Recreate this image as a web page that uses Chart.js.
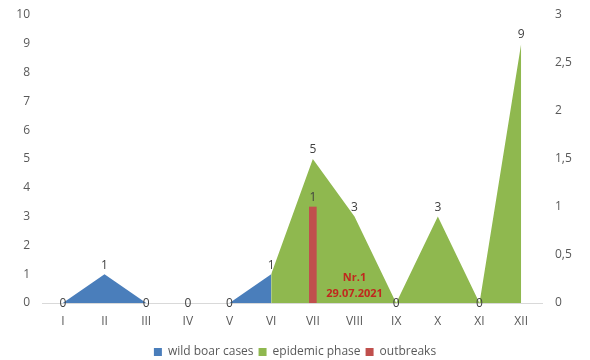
<!DOCTYPE html>
<html>
<head>
<meta charset="utf-8">
<script src="https://cdn.jsdelivr.net/npm/chart.js@4/dist/chart.umd.min.js"></script>
<style>
  html, body { margin: 0; padding: 0; background: #fff; }
  #wrap { width: 590px; height: 360px; }
</style>
</head>
<body>
<div id="wrap"><canvas id="c" width="590" height="360"></canvas></div>
<script>
// Months (Roman numerals)
const months = ['I', 'II', 'III', 'IV', 'V', 'VI', 'VII', 'VIII', 'IX', 'X', 'XI', 'XII'];
// Wild boar cases before the epidemic phase
const wildBoarCases = [0, 1, 0, 0, 0, 1, null, null, null, null, null, null];
// Cases during the epidemic phase
const epidemicPhase = [null, null, null, null, null, 1, 5, 3, 0, 3, 0, 9];
// Domestic outbreaks (right axis)
const outbreaks = [null, null, null, null, null, null, 1, null, null, null, null, null];
const outbreakNote = ['Nr.1', '29.07.2021'];
const noteMonth = 7;     // index of VIII
const noteValue = 0.6;   // left-axis value at the centre of the note

const FONT = '"Open Sans", "Liberation Sans", sans-serif';
const TXT = '#595959';

// value labels for the area series and the outbreak bar
const valueLabels = {
  id: 'valueLabels',
  afterDatasetsDraw(chart) {
    const ctx = chart.ctx;
    ctx.save();
    ctx.font = '12px ' + FONT;
    ctx.fillStyle = '#404040';
    ctx.textAlign = 'center';
    ctx.textBaseline = 'middle';
    const done = new Set();
    chart.data.datasets.forEach((ds, di) => {
      const meta = chart.getDatasetMeta(di);
      ds.data.forEach((v, i) => {
        if (v === null || done.has(i + ':' + ds.yAxisID)) return;
        done.add(i + ':' + ds.yAxisID);
        const el = meta.data[i];
        let x = el.x, y = el.y;
        if (ds.type === 'bar') {
          y = el.y - 9;
        } else if (v === 0) {
          y = el.y + 1;
        } else {
          y = el.y - 9;
        }
        ctx.fillText(String(v), x, y);
      });
    });
    // outbreak note
    const xs = chart.scales.x, ys = chart.scales.y;
    const cx = xs.getPixelForValue(noteMonth);
    const cy = ys.getPixelForValue(noteValue);
    ctx.font = 'bold 11px ' + FONT;
    ctx.fillStyle = '#C0281E';
    ctx.fillText(outbreakNote[0], cx, cy - 8);
    ctx.fillText(outbreakNote[1], cx, cy + 8);
    ctx.restore();
  }
};

new Chart(document.getElementById('c'), {
  data: {
    labels: months,
    datasets: [
      {
        type: 'line', label: 'wild boar cases', data: wildBoarCases, yAxisID: 'y',
        backgroundColor: '#4A7EBB', borderColor: '#4A7EBB', borderWidth: 0,
        fill: 'origin', pointRadius: 0, tension: 0, spanGaps: false, order: 2
      },
      {
        type: 'line', label: 'epidemic phase', data: epidemicPhase, yAxisID: 'y',
        backgroundColor: '#8FB84F', borderColor: '#8FB84F', borderWidth: 0,
        fill: 'origin', pointRadius: 0, tension: 0, spanGaps: false, order: 3
      },
      {
        type: 'bar', label: 'outbreaks', data: outbreaks, yAxisID: 'y1',
        backgroundColor: '#C0504D', barThickness: 7, order: 1
      }
    ]
  },
  options: {
    responsive: false,
    animation: false,
    layout: { padding: { top: 15, left: 0, right: 0, bottom: -8 } },
    plugins: {
      tooltip: { enabled: false },
      legend: {
        position: 'bottom',
        labels: {
          font: { family: FONT, size: 12 }, color: TXT,
          boxWidth: 8, boxHeight: 8, padding: 5,
          sort: (a, b) => a.datasetIndex - b.datasetIndex
        }
      }
    },
    scales: {
      x: {
        offset: true,
        grid: { display: false, drawTicks: false },
        border: { display: true, color: '#D9D9D9', width: 1 },
        ticks: { font: { family: FONT, size: 12 }, color: TXT, padding: 11, maxRotation: 0 },
        afterFit(s) { s.height = 38; }
      },
      y: {
        position: 'left', min: 0, max: 10,
        grid: { display: false, drawTicks: false },
        border: { display: false },
        ticks: { stepSize: 1, font: { family: FONT, size: 12 }, color: TXT, padding: 12 },
        afterFit(s) { s.width = 42; s.paddingTop = 0; }
      },
      y1: {
        position: 'right', min: 0, max: 3,
        grid: { display: false, drawTicks: false },
        border: { display: false },
        ticks: {
          stepSize: 0.5, font: { family: FONT, size: 12 }, color: TXT, padding: 13,
          callback: v => String(v).replace('.', ',')
        },
        afterFit(s) { s.width = 48; s.paddingTop = 0; }
      }
    }
  },
  plugins: [valueLabels]
});
</script>
</body>
</html>
